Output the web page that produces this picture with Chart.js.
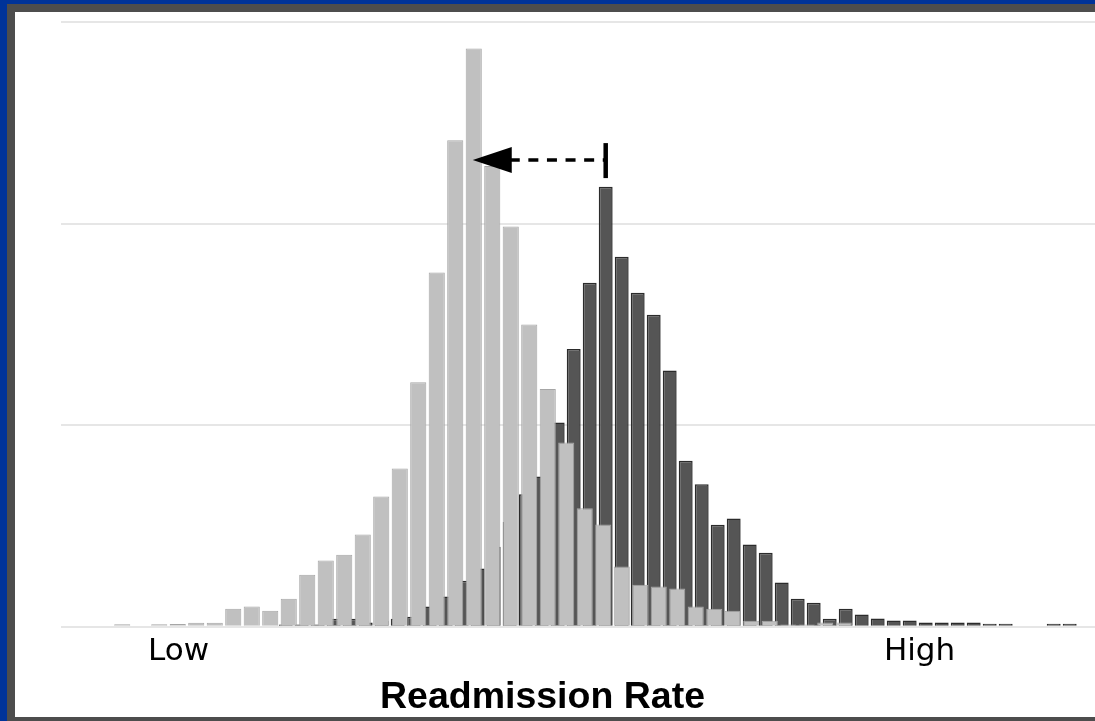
<!DOCTYPE html>
<html>
<head>
<meta charset="utf-8">
<title>Readmission Rate</title>
<script src="https://cdn.jsdelivr.net/npm/chart.js@4.4.1/dist/chart.umd.min.js"></script>
<style>
  html, body { margin: 0; padding: 0; }
  body { width: 1095px; height: 721px; overflow: hidden; background: #003399; position: relative; }
  #frame { position: absolute; left: 7px; top: 4px; right: -20px; bottom: 0; background: #4d4d4d; }
  #paper { position: absolute; left: 15px; top: 12px; right: -20px; bottom: 4px; background: #fff; }
  #chart { position: absolute; left: 0; top: 0; }
</style>
</head>
<body>
<div id="frame"></div>
<div id="paper"></div>
<canvas id="chart" width="1095" height="721"></canvas>
<script>
// Histogram bins (readmission rate, %)
const lightStart = 10.0;
const lightWidth = 0.37;
const darkStart = 13.294;
const darkWidth = 0.32;
const xMin = 8.96;
const xMax = 29.64;

// Light histogram counts, one per bin
const lightCounts = [1.3, 0, 1.3, 1.4, 2.0, 2.0, 8.9, 10.1, 7.9, 13.9,
  25.8, 32.9, 35.8, 45.8, 64.6, 78.5, 121.3, 175.7, 241.4, 286.9,
  228.6, 198.5, 149.9, 118.0, 91.4, 58.8, 50.7, 29.9, 20.8, 20.0,
  19.0, 10.1, 8.9, 7.9, 3.0, 3.0, 1.2, 1.2, 2.1, 2.1];

// Dark histogram counts, one per bin
const darkCounts = [1.2, 1.2, 1.2, 4.0, 4.0, 2.1, 3.0, 4.0, 5.0, 10.1,
  15.0, 22.8, 28.9, 39.7, 52.0, 65.8, 74.5, 101.3, 137.8, 170.7,
  218.3, 183.6, 165.7, 154.8, 127.1, 82.4, 70.7, 50.6, 53.7, 40.8,
  36.7, 22.0, 13.9, 11.9, 4.0, 8.9, 6.1, 4.1, 3.1, 3.1,
  2.1, 2.1, 2.1, 2.1, 1.5, 1.5, 0, 0, 1.5, 1.5];

// Axis labels
const tickValues = [11.31, 26.13];
const tickLabels = ['Low', 'High'];
const axisTitle = 'Readmission Rate';
const titleAt = 18.59;

// Arrow: from the dark peak to the light peak
const arrowFrom = darkStart + darkWidth * 20.5;
const arrowTo = lightStart + lightWidth * 19.5;
const arrowLevel = 231.5;

const lightPoints = lightCounts.map((v, i) => ({ x: lightStart + lightWidth * (i + 0.5), y: v }));
const darkPoints = darkCounts.map((v, i) => ({ x: darkStart + darkWidth * (i + 0.5), y: v }));

const annotate = {
  id: 'annotate',
  afterDatasetsDraw(chart) {
    const { ctx, scales: { x, y } } = chart;
    const tipX = x.getPixelForValue(arrowTo);
    const tailX = x.getPixelForValue(arrowFrom);
    const ay = y.getPixelForValue(arrowLevel);
    ctx.save();
    ctx.fillStyle = '#000';
    ctx.strokeStyle = '#000';
    // arrow head
    ctx.beginPath();
    ctx.moveTo(tipX - 1, ay);
    ctx.lineTo(tipX + 38, ay - 13);
    ctx.lineTo(tipX + 38, ay + 13);
    ctx.closePath();
    ctx.fill();
    // dashed shaft
    ctx.lineWidth = 3.5;
    ctx.setLineDash([10, 8.6]);
    ctx.beginPath();
    ctx.moveTo(tipX + 36, ay);
    ctx.lineTo(tailX, ay);
    ctx.stroke();
    // end bar
    ctx.setLineDash([]);
    ctx.lineWidth = 4.5;
    ctx.beginPath();
    ctx.moveTo(tailX, ay - 17);
    ctx.lineTo(tailX, ay + 18);
    ctx.stroke();
    ctx.restore();
  },
  afterDraw(chart) {
    const { ctx, chartArea, scales: { x } } = chart;
    ctx.save();
    ctx.font = 'bold 37.5px "Liberation Sans", Arial, sans-serif';
    ctx.fillStyle = '#000';
    ctx.textAlign = 'center';
    ctx.textBaseline = 'alphabetic';
    ctx.fillText(axisTitle, x.getPixelForValue(titleAt), chartArea.bottom + 81);
    ctx.restore();
  }
};

document.addEventListener('DOMContentLoaded', () => {
  const ctx = document.getElementById('chart').getContext('2d');
  new Chart(ctx, {
    type: 'bar',
    data: {
      datasets: [{
        label: 'Light',
        data: lightPoints,
        xAxisID: 'x',
        backgroundColor: '#c0c0c0',
        borderColor: '#a6a6a6',
        borderWidth: 1,
        barPercentage: 0.87,
        categoryPercentage: 1,
        grouped: false,
        order: 0
      }, {
        label: 'Dark',
        data: darkPoints,
        xAxisID: 'x2',
        backgroundColor: '#555555',
        borderColor: '#2b2b2b',
        borderWidth: 1.5,
        barPercentage: 0.87,
        categoryPercentage: 1,
        grouped: false,
        order: 1
      }]
    },
    options: {
      responsive: false,
      animation: false,
      layout: { padding: { left: 61, top: 22, right: 0, bottom: 44 } },
      plugins: { legend: { display: false }, tooltip: { enabled: false } },
      scales: {
        x: {
          type: 'linear',
          min: xMin,
          max: xMax,
          offset: false,
          grid: { display: false, drawTicks: false },
          border: { display: false },
          afterBuildTicks: (s) => { s.ticks = tickValues.map(v => ({ value: v })); },
          ticks: {
            autoSkip: false,
            maxRotation: 0,
            padding: 6.5,
            color: '#000',
            font: { family: 'DejaVu Sans', size: 31 },
            callback: (v, i) => tickLabels[i]
          }
        },
        x2: { type: 'linear', min: xMin, max: xMax, offset: false, display: false },
        y: {
          min: 0,
          max: 300,
          ticks: { display: false, stepSize: 100 },
          grid: { color: '#e6e6e6', lineWidth: 2, drawTicks: false },
          border: { display: false }
        }
      }
    },
    plugins: [annotate]
  });
});
</script>
</body>
</html>
